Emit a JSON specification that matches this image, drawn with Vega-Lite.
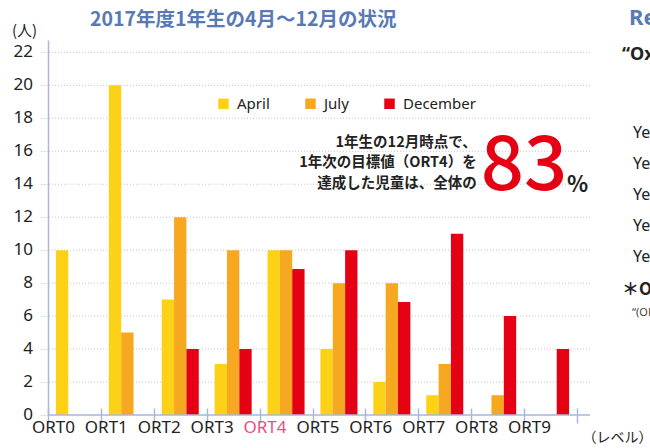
{
  "$schema": "https://vega.github.io/schema/vega-lite/v6.json",
  "width": 542,
  "height": 375,
  "autosize": "none",
  "padding": {"left": 48, "top": 40, "right": 60, "bottom": 33},
  "background": "white",
  "config": {
    "view": {"stroke": null},
    "font": "Noto Sans CJK JP",
    "axisY": {
      "values": [0, 2, 4, 6, 8, 10, 12, 14, 16, 18, 20, 22],
      "labels": false,
      "grid": false,
      "domainColor": "#aab9da",
      "domainWidth": 1.5,
      "tickColor": "#b0b0b0",
      "tickDash": [1, 2],
      "tickSize": 9,
      "titleAngle": 0,
      "titleX": -24,
      "titleY": -10,
      "titleAlign": "center",
      "titleBaseline": "middle",
      "titleFontSize": 15,
      "titleFontWeight": "normal",
      "titleColor": "#222"
    }
  },
  "title": {
    "text": "2017年度1年生の4月〜12月の状況",
    "frame": "group",
    "anchor": "start",
    "dx": 42,
    "offset": -24,
    "fontSize": 19.5,
    "fontWeight": "bold",
    "color": "#5879b4",
    "font": "Noto Sans CJK JP"
  },
  "datasets": {
    "bars": [
      {"level": "ORT0", "month": "April", "count": 10},
      {"level": "ORT1", "month": "April", "count": 20},
      {"level": "ORT1", "month": "July", "count": 5},
      {"level": "ORT2", "month": "April", "count": 7},
      {"level": "ORT2", "month": "July", "count": 12},
      {"level": "ORT2", "month": "December", "count": 4},
      {"level": "ORT3", "month": "April", "count": 3.1},
      {"level": "ORT3", "month": "July", "count": 10},
      {"level": "ORT3", "month": "December", "count": 4},
      {"level": "ORT4", "month": "April", "count": 10},
      {"level": "ORT4", "month": "July", "count": 10},
      {"level": "ORT4", "month": "December", "count": 8.85},
      {"level": "ORT5", "month": "April", "count": 4},
      {"level": "ORT5", "month": "July", "count": 8},
      {"level": "ORT5", "month": "December", "count": 10},
      {"level": "ORT6", "month": "April", "count": 2},
      {"level": "ORT6", "month": "July", "count": 8},
      {"level": "ORT6", "month": "December", "count": 6.85},
      {"level": "ORT7", "month": "April", "count": 1.2},
      {"level": "ORT7", "month": "July", "count": 3.1},
      {"level": "ORT7", "month": "December", "count": 11},
      {"level": "ORT8", "month": "July", "count": 1.2},
      {"level": "ORT8", "month": "December", "count": 6},
      {"level": "ORT9", "month": "December", "count": 4}
    ],
    "grid": [
      {"g": 0}, {"g": 2}, {"g": 4}, {"g": 6}, {"g": 8}, {"g": 10}, {"g": 12},
      {"g": 14}, {"g": 16}, {"g": 18}, {"g": 20}, {"g": 22}
    ],
    "one": [{}]
  },
  "layer": [
    {
      "data": {"name": "grid"},
      "mark": {"type": "rule", "color": "#c4c4c4", "strokeDash": [1, 2], "strokeWidth": 1},
      "encoding": {
        "y": {"field": "g", "type": "quantitative", "scale": {"domain": [0, 22.75], "nice": false}, "title": "(人)"}
      }
    },
    {
      "data": {"name": "grid"},
      "mark": {"type": "text", "align": "right", "baseline": "middle", "dx": -41.5, "fontSize": 17, "color": "#222", "font": "Noto Sans"},
      "encoding": {
        "x": {"datum": "ORT0"},
        "y": {"field": "g", "type": "quantitative", "title": "(人)"},
        "text": {"field": "g", "type": "quantitative"}
      }
    },
    {
      "data": {"name": "bars"},
      "mark": {"type": "bar"},
      "encoding": {
        "x": {
          "field": "level",
          "type": "nominal",
          "scale": {"domain": ["ORT0","ORT1","ORT2","ORT3","ORT4","ORT5","ORT6","ORT7","ORT8","ORT9"], "range": [0, 529], "paddingInner": 0, "paddingOuter": 0},
          "axis": {
            "title": "（レベル）",
            "titleX": 534,
            "titleY": 29,
            "titleAlign": "left",
            "titleBaseline": "middle",
            "titleFontSize": 14,
            "titleFontWeight": "normal",
            "titleColor": "#222",
            "titleFont": "Noto Sans CJK JP",
            "domain": false,
            "offset": -7,
            "bandPosition": 0.5,
            "tickBand": "extent",
            "tickSize": 15,
            "tickColor": "#aab9da",
            "tickWidth": 1.5,
            "labelAngle": 0,
            "labelFont": "Noto Sans",
            "labelFontSize": 17,
            "labelPadding": 4,
            "labelColor": {"condition": {"test": "datum.value === 'ORT4'", "value": "#ec4d80"}, "value": "#222"},
            "grid": false
          }
        },
        "xOffset": {
          "field": "month",
          "type": "nominal",
          "scale": {"domain": ["April", "July", "December"], "paddingInner": 0, "paddingOuter": 0.643}
        },
        "y": {"field": "count", "type": "quantitative", "title": "(人)"},
        "color": {
          "field": "month",
          "type": "nominal",
          "scale": {"domain": ["April", "July", "December"], "range": ["#fdd116", "#f6a821", "#e60013"]},
          "legend": {
            "orient": "none",
            "legendX": 168,
            "legendY": 56,
            "direction": "horizontal",
            "title": null,
            "symbolType": "square",
            "symbolSize": 110,
            "symbolStrokeWidth": 0,
            "labelFont": "Noto Sans",
            "labelFontSize": 15,
            "labelColor": "#222",
            "labelOffset": 6,
            "columnPadding": 33
          }
        }
      }
    },
    {
      "data": {"name": "one"},
      "mark": {"type": "rule", "color": "#aab9da", "strokeWidth": 1.5},
      "encoding": {"y": {"datum": 0}}
    },
    {
      "data": {"name": "one"},
      "mark": {"type": "text", "align": "right", "baseline": "middle", "dx": -21, "fontSize": 14.5, "fontWeight": "bold", "lineHeight": 20.5, "color": "#222", "font": "Noto Sans CJK JP"},
      "encoding": {
        "x": {"datum": "ORT8"},
        "y": {"datum": 16.52},
        "text": {"value": ["1年生の12月時点で、", "1年次の目標値（ORT4）を", "達成した児童は、全体の"]}
      }
    },
    {
      "data": {"name": "one"},
      "mark": {"type": "text", "align": "center", "baseline": "alphabetic", "dx": -26.5, "fontSize": 76, "fontWeight": 500, "color": "#e60013", "font": "Noto Sans CJK JP"},
      "encoding": {
        "x": {"datum": "ORT9"},
        "y": {"datum": 13.67},
        "text": {"value": "83"}
      }
    },
    {
      "data": {"name": "one"},
      "mark": {"type": "text", "align": "left", "baseline": "alphabetic", "dx": 16.5, "fontSize": 22, "fontWeight": "bold", "color": "#222", "font": "Noto Sans CJK JP"},
      "encoding": {
        "x": {"datum": "ORT9"},
        "y": {"datum": 13.55},
        "text": {"value": "%"}
      }
    },
    {
      "data": {"name": "one"},
      "mark": {"type": "text", "align": "left", "baseline": "alphabetic", "dx": 78.5, "fontSize": 22, "fontWeight": "bold", "color": "#5879b4", "font": "Noto Sans"},
      "encoding": {
        "x": {"datum": "ORT9"},
        "y": {"datum": 23.68},
        "text": {"value": "Reading levels"}
      }
    },
    {
      "data": {"name": "one"},
      "mark": {"type": "text", "align": "left", "baseline": "middle", "dx": 71.5, "fontSize": 18, "fontWeight": "bold", "color": "#222", "font": "Noto Sans"},
      "encoding": {
        "x": {"datum": "ORT9"},
        "y": {"datum": 21.86},
        "text": {"value": "“Oxford Reading Tree”"}
      }
    },
    {
      "data": {"name": "one"},
      "mark": {"type": "text", "align": "left", "baseline": "middle", "dx": 82.5, "fontSize": 16, "lineHeight": 31.2, "color": "#222", "font": "Noto Sans"},
      "encoding": {
        "x": {"datum": "ORT9"},
        "y": {"datum": 17.13},
        "text": {"value": ["Year 1", "Year 2", "Year 3", "Year 4", "Year 5"]}
      }
    },
    {
      "data": {"name": "one"},
      "mark": {"type": "text", "align": "left", "baseline": "middle", "dx": 71.5, "fontSize": 17, "fontWeight": "bold", "color": "#222", "font": "Noto Sans CJK JP"},
      "encoding": {
        "x": {"datum": "ORT9"},
        "y": {"datum": 7.6},
        "text": {"value": "＊ORT"}
      }
    },
    {
      "data": {"name": "one"},
      "mark": {"type": "text", "align": "left", "baseline": "middle", "dx": 81.5, "fontSize": 11, "color": "#444", "font": "Noto Sans"},
      "encoding": {
        "x": {"datum": "ORT9"},
        "y": {"datum": 6.2},
        "text": {"value": "“(ORT)”"}
      }
    }
  ]
}
